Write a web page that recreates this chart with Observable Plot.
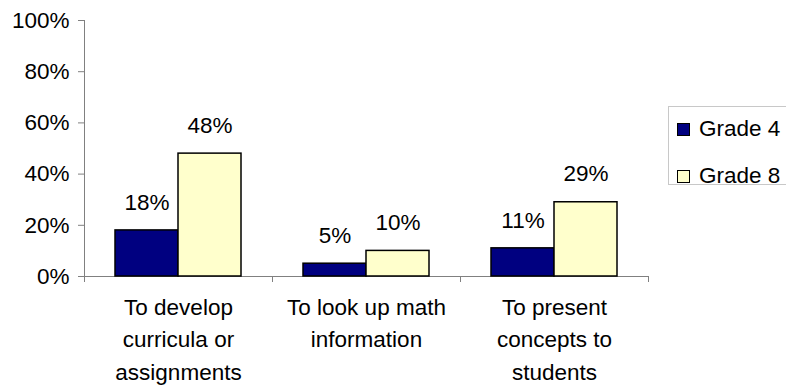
<!DOCTYPE html>
<html>
<head>
<meta charset="utf-8">
<script src="https://cdn.jsdelivr.net/npm/d3@7"></script>
<script src="https://cdn.jsdelivr.net/npm/@observablehq/plot@0.6"></script>
<style>
  html, body { margin: 0; padding: 0; background: #fff; }
  body { width: 786px; height: 385px; overflow: hidden; position: relative;
         font-family: "Liberation Sans", Arial, sans-serif; }
  #legend { position: absolute; left: 668px; top: 106px; width: 140px; height: 79px;
            border: 1px solid #c8c8c8; box-sizing: border-box; background: #fff; }
  .item { position: absolute; left: 8px; display: flex; align-items: center;
          font-size: 22.5px; color: #000; line-height: 1; white-space: nowrap; }
  .swatch { width: 13px; height: 13px; border: 1px solid #000; box-sizing: border-box;
            margin-right: 9px; }
</style>
</head>
<body>
<div id="chart"></div>
<div id="legend"></div>
<script>
// Uses of the computer for mathematics, by grade
const categories = [
  "To develop curricula or assignments",
  "To look up math information",
  "To present concepts to students"
];
const categoryLabels = [
  "To develop\ncurricula or\nassignments",
  "To look up math\ninformation",
  "To present\nconcepts to\nstudents"
];
const grades = ["Grade 4", "Grade 8"];
const grade4 = [18, 5, 11];
const grade8 = [48, 10, 29];
const yTicks = [0, 20, 40, 60, 80, 100];
const colors = ["#000080", "#FFFFCC"];

const rows = categories.flatMap((c, i) => [
  {category: c, grade: grades[0], value: grade4[i]},
  {category: c, grade: grades[1], value: grade8[i]}
]);

const W = 786, H = 385;
const mLeft = 84, mRight = 138, mTop = 20, mBottom = 109;
const bandW = (W - mLeft - mRight) / categories.length;
const axisGray = "#808080";
const font = 22.5;

const chart = Plot.plot({
  width: W,
  height: H,
  marginLeft: mLeft,
  marginRight: mRight,
  marginTop: mTop,
  marginBottom: mBottom,
  style: {fontFamily: "'Liberation Sans', Arial, sans-serif", fontSize: font + "px", color: "#000", background: "#fff"},
  fx: {domain: categories, padding: 0, label: null},
  x: {domain: grades, paddingInner: 0, paddingOuter: 0.492, axis: null},
  y: {domain: [0, 100], label: null},
  color: {domain: grades, range: colors},
  marks: [
    Plot.ruleY([0], {stroke: axisGray, strokeWidth: 1}),
    Plot.frame({anchor: "left", facetAnchor: "left", stroke: axisGray}),
    Plot.barY(rows, {fx: "category", x: "grade", y: "value", fill: "grade",
                     stroke: "#000", strokeWidth: 1.5}),
    Plot.text(rows, {fx: "category", x: "grade", y: "value",
                     text: d => d.value + "%", dy: -28, fontSize: font, fill: "#000"}),
    Plot.axisY({ticks: yTicks, tickFormat: d => d + "%", tickSize: 6, tickPadding: 9,
                fontSize: font, stroke: axisGray, fill: "#000", label: null}),
    Plot.axisFx({anchor: "bottom", tickSize: 0, tickPadding: 15, fontSize: font,
                 lineHeight: 1.45, fill: "#000", label: null,
                 tickFormat: d => categoryLabels[categories.indexOf(d)]}),
    Plot.axisFx({anchor: "bottom", ticks: categories, tickSize: 6, tickFormat: () => "",
                 dx: -bandW / 2, stroke: axisGray, label: null}),
    Plot.axisFx({anchor: "bottom", ticks: [categories[categories.length - 1]], tickSize: 6,
                 tickFormat: () => "", dx: bandW / 2, stroke: axisGray, label: null})
  ]
});
document.getElementById("chart").appendChild(chart);

// Legend
const legend = document.getElementById("legend");
grades.forEach((g, i) => {
  const item = document.createElement("div");
  item.className = "item";
  item.style.top = (i === 0 ? 11 : 58) + "px";
  const sw = document.createElement("span");
  sw.className = "swatch";
  sw.style.background = colors[i];
  const label = document.createElement("span");
  label.textContent = g;
  item.appendChild(sw);
  item.appendChild(label);
  legend.appendChild(item);
});
</script>
</body>
</html>
